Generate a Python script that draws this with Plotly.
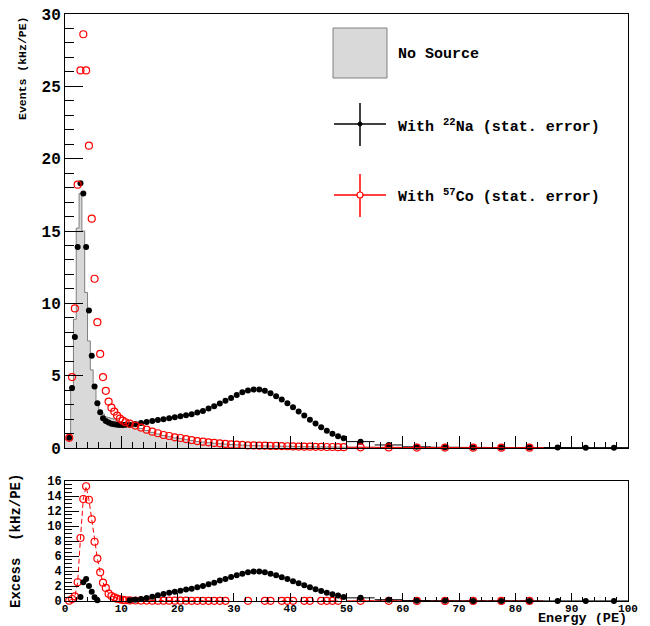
import numpy as np
import plotly.graph_objects as go

# ---------------- data ----------------
# energy binning (PE): 0.5 PE bins up to 11, 1 PE bins up to 50, 5 PE bins up to 100
bin_edges = np.concatenate([np.arange(0, 11, 0.5), np.arange(11, 50, 1.0), np.arange(50, 100.1, 5.0)])

# No source rate (kHz/PE)
no_source = [0.6, 0.7, 4.3, 8.9, 15.2, 17.6, 15.0, 10.75, 7.4, 5.4, 4.1, 3.05, 2.6, 2.35, 2.15, 2.1, 2.05, 2.0, 1.92, 1.82, 1.75, 1.7,
             1.6, 1.48, 1.35, 1.21, 1.08, 0.97, 0.86, 0.78, 0.70, 0.65, 0.58, 0.52, 0.45, 0.41, 0.37, 0.33, 0.30, 0.27, 0.24, 0.22,
             0.20, 0.18, 0.17, 0.16, 0.15, 0.14, 0.13, 0.12, 0.12, 0.11, 0.10, 0.09, 0.09, 0.08, 0.08, 0.07, 0.07, 0.06, 0.06,
             0.05, 0.04, 0.03, 0.03, 0.02, 0.02, 0.02, 0.02, 0.02, 0.02]

# With 22Na (kHz/PE)
na22 = [None, 0.7, 4.15, 7.68, 13.9, 18.3, 17.6, 13.9, 9.5, 6.37, 4.25, 3.1, 2.47, 2.06, 1.87, 1.76, 1.68, 1.64, 1.61, 1.59, 1.59, 1.60,
        1.61, 1.66, 1.73, 1.80, 1.87, 1.94, 1.99, 2.06, 2.13, 2.19, 2.26, 2.33, 2.45, 2.56, 2.73, 2.89, 3.07, 3.26, 3.46, 3.67,
        3.86, 3.97, 4.04, 4.04, 3.95, 3.79, 3.58, 3.35, 3.09, 2.82, 2.52, 2.24, 1.96, 1.69, 1.43, 1.20, 0.99, 0.81, 0.67,
        0.44, 0.21, 0.08, 0.05, 0.04, 0.03, 0.03, 0.03, 0.02, 0.02]

# With 57Co (kHz/PE)
co57 = [None, 0.7, 4.9, 9.65, 18.2, 26.1, 28.6, 26.1, 20.9, 15.85, 11.7, 8.7, 6.5, 4.9, 3.95, 3.21, 2.79, 2.52, 2.24, 2.03, 1.89, 1.78,
        1.68, 1.55, 1.41, 1.27, 1.13, 1.02, 0.90, 0.83, 0.74, 0.69, 0.62, 0.55, 0.48, 0.44, 0.39, 0.35, 0.32, 0.28, 0.25,
        0.23, 0.21, 0.18, 0.18, 0.16, 0.16, 0.14, 0.14, 0.13, 0.12, 0.11, 0.10, 0.09, 0.09, 0.08, 0.08, 0.07, 0.07, 0.06, 0.06,
        0.05, 0.04, 0.03, 0.03, 0.02, 0.02, 0.02, None, None, None]

# Excess over no source (kHz/PE); None = below zero (not shown)
na22_excess = [None, None, None, None, None, 0.53, 2.5, 2.94, 2.0, 1.25, 0.49, 0.09, None, None, None, None, None, None, None, None, None, None,
               0.09, 0.18, 0.27, 0.4, 0.58, 0.76, 0.94, 1.11, 1.25, 1.38, 1.52, 1.65, 1.83, 2.0, 2.23, 2.45, 2.72, 2.94, 3.21,
               3.43, 3.65, 3.83, 3.92, 3.92, 3.83, 3.65, 3.43, 3.18, 2.93, 2.65, 2.38, 2.1, 1.83, 1.57, 1.32, 1.1, 0.9, 0.72, 0.55,
               0.42, 0.17, 0.05, 0.02, 0.01, 0.01, 0.01, 0.01, 0.01, 0.01]

co57_excess = [None, 0.05, 0.27, 0.62, 2.5, 8.4, 13.6, 15.3, 13.5, 10.9, 7.9, 5.66, 3.83, 2.45, 1.74, 0.98, 0.67, 0.49, 0.31, 0.22, 0.15, 0.1,
               0.08, 0.07, 0.06, 0.06, 0.05, 0.05, 0.05, 0.04, 0.04, 0.04, 0.04, 0.03, 0.03, 0.03, 0.03, 0.03, 0.02, 0.02,
               None, None, None, 0.02, None, None, 0.02, 0.02, None, 0.02, 0.02, 0.02, None, 0.02, 0.02, None, 0.02, 0.02, 0.02, 0.02, None,
               0.02, 0.02, 0.01, 0.01, 0.01, 0.01, 0.01, None, None, None]

bin_centers = (bin_edges[:-1] + bin_edges[1:]) / 2
bin_widths = np.diff(bin_edges)
x_err = [w / 2 if w >= 5 else 0 for w in bin_widths]

# ---------------- figure ----------------
FONT = "Liberation Mono"
W, H = 650, 626
ML, MR, MT, MB = 65, 22, 14, 25
PW, PH = W - ML - MR, H - MT - MB


def px(xp):
    return (xp - ML) / PW


def py(yp):
    return (H - MB - yp) / PH


fig = go.Figure()

# No source histogram (step)
fig.add_trace(go.Scatter(
    x=bin_edges, y=list(no_source) + [no_source[-1]],
    mode="lines", line=dict(shape="hv", color="#7f7f7f", width=1),
    fill="tozeroy", fillcolor="#d9d9d9", xaxis="x", yaxis="y", hoverinfo="skip"))

fig.add_trace(go.Scatter(
    x=bin_centers, y=na22, mode="markers",
    marker=dict(symbol="circle", size=6, color="black"),
    error_x=dict(type="data", array=x_err, width=0, thickness=1, color="black"),
    xaxis="x", yaxis="y", cliponaxis=False))

fig.add_trace(go.Scatter(
    x=bin_centers, y=co57, mode="markers",
    marker=dict(symbol="circle-open", size=7, color="red", line=dict(width=1.2, color="red")),
    error_x=dict(type="data", array=x_err, width=0, thickness=1, color="red"),
    xaxis="x", yaxis="y", cliponaxis=False))

# Lower pad: excess
fig.add_trace(go.Scatter(
    x=bin_centers, y=co57_excess, mode="lines+markers",
    line=dict(color="red", width=1, dash="5px,3px"),
    marker=dict(symbol="circle-open", size=7, color="red", line=dict(width=1.2, color="red")),
    error_x=dict(type="data", array=x_err, width=0, thickness=1, color="red"),
    xaxis="x2", yaxis="y2", cliponaxis=False))

fig.add_trace(go.Scatter(
    x=bin_centers, y=na22_excess, mode="markers",
    marker=dict(symbol="circle", size=6, color="black"),
    error_x=dict(type="data", array=x_err, width=0, thickness=1, color="black"),
    xaxis="x2", yaxis="y2", cliponaxis=False))

axis_common = dict(showline=True, mirror=True, linecolor="black", linewidth=1, automargin=False,
                   showgrid=False, zeroline=False, ticks="inside", tickcolor="black", tickwidth=1)

top_bottom_dom = py(448)
bot_top_dom = py(481)

fig.update_layout(
    width=W, height=H,
    margin=dict(l=ML, r=MR, t=MT, b=MB, autoexpand=False),
    paper_bgcolor="white", plot_bgcolor="white",
    showlegend=False,
    font=dict(family=FONT, color="black"),
    xaxis=dict(domain=[0, 1], anchor="y", range=[0, 100], dtick=10, ticklen=12,
               showticklabels=False,
               minor=dict(ticks="inside", dtick=2, ticklen=6, tickcolor="black"),
               **axis_common),
    yaxis=dict(domain=[top_bottom_dom, 1], anchor="x", range=[0, 30], dtick=5, ticklen=18,
               tickfont=dict(family=FONT, size=16, weight="bold"),
               minor=dict(ticks="inside", dtick=1, ticklen=9, tickcolor="black"),
               **axis_common),
    xaxis2=dict(domain=[0, 1], anchor="y2", range=[0, 100], dtick=10, ticklen=8,
                tickfont=dict(family=FONT, size=11, weight="bold"), ticklabelstandoff=-3,
                minor=dict(ticks="inside", dtick=2, ticklen=4, tickcolor="black"),
                **axis_common),
    yaxis2=dict(domain=[0, bot_top_dom], anchor="x2", range=[0, 16], dtick=2, ticklen=14,
                tickfont=dict(family=FONT, size=12, weight="bold"),
                minor=dict(ticks="inside", dtick=0.5, ticklen=7, tickcolor="black"),
                **axis_common),
)

bold = dict(family=FONT, color="black", weight="bold")
annotations = [
    dict(text="Events (kHz/PE)", x=px(22), y=1.0, xref="paper", yref="paper", textangle=-90,
         xanchor="center", yanchor="top", showarrow=False, font=dict(size=11.5, **bold)),
    dict(text="Excess  (kHz/PE)", x=px(16), y=py(541), xref="paper", yref="paper", textangle=-90,
         xanchor="center", yanchor="middle", showarrow=False, font=dict(size=14, **bold)),
    dict(text="Energy (PE)", x=1.0, y=py(627), xref="paper", yref="paper",
         xanchor="right", yanchor="bottom", showarrow=False, font=dict(size=13.5, **bold),
         borderpad=0),
    dict(text="No Source", x=px(396), y=py(54), xref="paper", yref="paper",
         xanchor="left", yanchor="middle", showarrow=False, font=dict(size=15, **bold)),
    dict(text="With <sup>22</sup>Na (stat. error)", x=px(396), y=py(126), xref="paper", yref="paper",
         xanchor="left", yanchor="middle", showarrow=False, font=dict(size=15, **bold)),
    dict(text="With <sup>57</sup>Co (stat. error)", x=px(396), y=py(196), xref="paper", yref="paper",
         xanchor="left", yanchor="middle", showarrow=False, font=dict(size=15, **bold)),
]

shapes = [
    dict(type="rect", xref="paper", yref="paper", x0=px(333), x1=px(387), y0=py(78), y1=py(28),
         fillcolor="#d9d9d9", line=dict(color="#808080", width=1)),
    dict(type="line", xref="paper", yref="paper", x0=px(334), x1=px(386), y0=py(124), y1=py(124),
         line=dict(color="black", width=1.5)),
    dict(type="line", xref="paper", yref="paper", x0=px(360), x1=px(360), y0=py(103), y1=py(146),
         line=dict(color="black", width=1.5)),
    dict(type="circle", xref="paper", yref="paper", x0=px(358), x1=px(362), y0=py(126), y1=py(122),
         fillcolor="black", line=dict(color="black", width=1)),
    dict(type="line", xref="paper", yref="paper", x0=px(334), x1=px(386), y0=py(195), y1=py(195),
         line=dict(color="red", width=1.5)),
    dict(type="line", xref="paper", yref="paper", x0=px(360), x1=px(360), y0=py(174), y1=py(217),
         line=dict(color="red", width=1.5)),
    dict(type="circle", xref="paper", yref="paper", x0=px(357), x1=px(363), y0=py(198), y1=py(192),
         fillcolor="white", line=dict(color="red", width=1.2)),
]

fig.update_layout(annotations=annotations, shapes=shapes)

fig.write_html("out.html", config={"displayModeBar": False},
               post_script="document.body.style.margin='0';")
